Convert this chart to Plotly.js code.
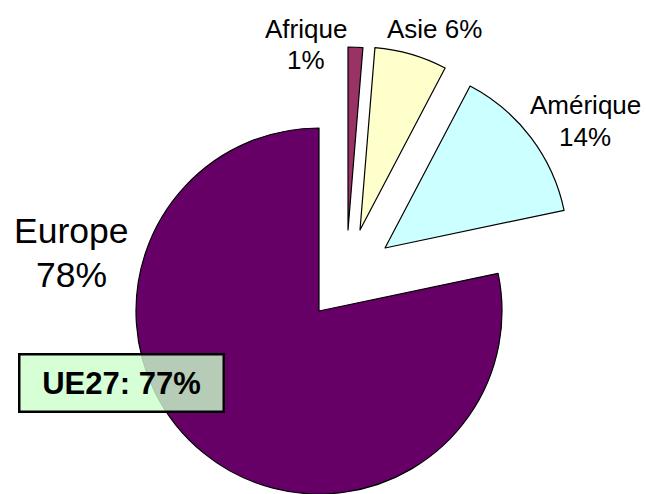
<!DOCTYPE html>
<html><head><meta charset="utf-8">
<script src="https://cdn.plot.ly/plotly-3.0.1.min.js"></script>
<style>html,body{margin:0;padding:0;background:#fff}#chart{width:646px;height:494px}</style>
</head><body><div id="chart"></div>
<script>
// ---- data ----
const regions = ["Afrique", "Asie", "Amérique", "Europe"];
const shares = [1.3, 6.4, 14.0, 78.3];
const sliceColors = ["#993366", "#FFFFCC", "#CCFFFF", "#660066"];
const euLabel = "UE27";
const euShare = 77;

// ---- layout helpers (positions only) ----
const W = 646, H = 494, R = 183;
// centre of each exploded slice, in pixels
const centres = [[348, 230], [360, 230], [385, 248], [319, 311]];
function dom(c) {
  return {
    x: [Math.max(0, (c[0] - R) / W), Math.min(1, (c[0] + R) / W)],
    y: [Math.max(0, 1 - (c[1] + R) / H), Math.min(1, 1 - (c[1] - R) / H)]
  };
}
const FONT = "Liberation Sans, Arial, sans-serif";

const traces = [3, 0, 1, 2].map(i => ({
  type: "pie",
  labels: regions,
  values: shares,
  sort: false,
  direction: "clockwise",
  rotation: 0,
  textinfo: "none",
  hoverinfo: "skip",
  showlegend: false,
  domain: dom(centres[i]),
  marker: {
    colors: regions.map((_, j) => j === i ? sliceColors[j] : "rgba(0,0,0,0)"),
    line: {
      color: regions.map((_, j) => j === i ? "#000000" : "rgba(0,0,0,0)"),
      width: 1.2
    }
  }
}));

// label placement: [x centre, y of each line centre, font size, single line?]
const labelPos = [
  {x: 306, ys: [29, 60], size: 26, single: false},
  {x: 434, ys: [29], size: 26, single: true},
  {x: 585, ys: [105, 137], size: 26, single: false},
  {x: 71, ys: [231, 275], size: 35.5, single: false}
];
const annotations = [];
regions.forEach((name, i) => {
  const pct = Math.round(shares[i]) + "%";
  const p = labelPos[i];
  const lines = p.single ? [name + " " + pct] : [name, pct];
  lines.forEach((t, k) => {
    annotations.push({
      text: t, xref: "paper", yref: "paper",
      x: p.x / W, y: 1 - p.ys[k] / H,
      xanchor: "center", yanchor: "middle",
      showarrow: false,
      font: {family: FONT, size: p.size, color: "#000"}
    });
  });
});
annotations.push({
  text: "<b>" + euLabel + ": " + euShare + "%</b>",
  xref: "paper", yref: "paper",
  x: 121.5 / W, y: 1 - 383 / H,
  xanchor: "center", yanchor: "middle",
  showarrow: false,
  width: 202, height: 55,
  bgcolor: "rgba(204,255,204,0.8)",
  bordercolor: "#000000", borderwidth: 2.5, borderpad: 0,
  font: {family: FONT, size: 31, color: "#000"}
});

Plotly.newPlot("chart", traces, {
  width: W, height: H,
  margin: {l: 0, r: 0, t: 0, b: 0, pad: 0},
  paper_bgcolor: "#fff",
  showlegend: false,
  annotations: annotations
}, {displayModeBar: false, staticPlot: true});
</script>
</body></html>
